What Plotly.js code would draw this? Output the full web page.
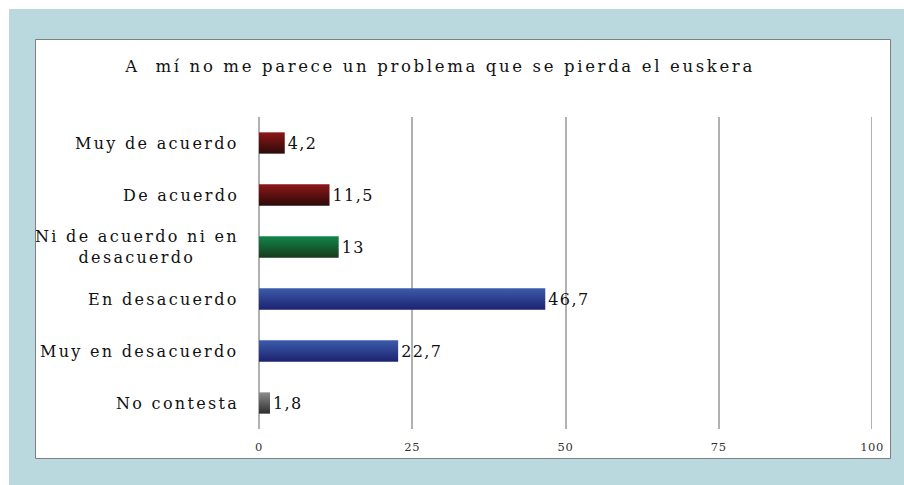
<!DOCTYPE html>
<html>
<head>
<meta charset="utf-8">
<script src="https://cdn.plot.ly/plotly-3.0.1.min.js"></script>
<style>
html,body{margin:0;padding:0;background:#fff;}
#chart{width:904px;height:485px;}
.gtitle{letter-spacing:2.65px;}
.annotation-text{letter-spacing:2.3px;}
.bartext{letter-spacing:1.4px;}
.xtick text{letter-spacing:0.6px;}
</style>
</head>
<body>
<div id="chart"></div>
<script>
const categories = ["Muy de acuerdo", "De acuerdo", "Ni de acuerdo ni en<br>desacuerdo", "En desacuerdo", "Muy en desacuerdo", "No contesta"];
const values = [4.2, 11.5, 13, 46.7, 22.7, 1.8];
const tickValues = [0, 25, 50, 75, 100];
const chartTitle = "A  mí no me parece un problema que se pierda el euskera";

const grads = [
  ["#8e1717", "#2c0a0a"],
  ["#8e1717", "#2c0a0a"],
  ["#12854a", "#173a1c"],
  ["#3b5cab", "#1c2270"],
  ["#3b5cab", "#1c2270"],
  ["#8c8c8c", "#2e2e2e"]
];
const midColors = ["#5e1212", "#5e1212", "#155e33", "#2c3f8e", "#2c3f8e", "#5e5e5e"];

const W = 904, H = 485, L = 259, R = 32, T = 117, B = 56;
const pw = W - L - R, ph = H - T - B;
const px = v => (v - L) / pw;
const py = v => (H - B - v) / ph;

const FONT = "DejaVu Serif, Liberation Serif, serif";
const GRID = "#b1b1b1";

const trace = {
  type: "bar",
  orientation: "h",
  y: categories,
  x: values,
  width: 0.41,
  marker: {color: midColors, line: {width: 0}},
  text: values.map(v => String(v).replace(".", ",")),
  textposition: "outside",
  textfont: {family: FONT, size: 16, color: "#111"},
  cliponaxis: false,
  hoverinfo: "none"
};

const annotations = categories.map(c => ({
  xref: "paper", yref: "y", x: px(240.5), y: c,
  xanchor: "right", yanchor: "middle", align: "center",
  text: c, showarrow: false,
  font: {family: FONT, size: 16, color: "#111"}
}));

const layout = {
  width: W, height: H,
  margin: {l: L, r: R, t: T, b: B},
  paper_bgcolor: "#ffffff",
  plot_bgcolor: "rgba(0,0,0,0)",
  showlegend: false,
  title: {text: chartTitle, font: {family: FONT, size: 16.5, color: "#111"},
          x: 440 / W, xanchor: "center", xref: "container", y: 1 - 66 / H, yanchor: "middle"},
  xaxis: {
    range: [0, 100], tickvals: tickValues, ticktext: tickValues.map(String),
    showgrid: true, gridcolor: GRID, gridwidth: 2,
    zeroline: true, zerolinecolor: GRID, zerolinewidth: 2,
    showline: false, ticks: "", ticklabelstandoff: 9,
    tickfont: {family: FONT, size: 11.5, color: "#333"}, fixedrange: true
  },
  yaxis: {
    type: "category", autorange: "reversed", showticklabels: false,
    showgrid: false, zeroline: false, showline: false, ticks: "", fixedrange: true
  },
  annotations: annotations,
  shapes: [
    {type: "rect", xref: "paper", yref: "paper", layer: "below",
     x0: px(9), x1: px(910), y0: py(490), y1: py(9),
     fillcolor: "#bad9df", line: {width: 0}},
    {type: "rect", xref: "paper", yref: "paper", layer: "below",
     x0: px(35.5), x1: px(890.5), y0: py(458.5), y1: py(39.5),
     fillcolor: "#ffffff", line: {color: "#7f7f7f", width: 1}},
    {type: "line", xref: "x", yref: "paper", layer: "below",
     x0: tickValues[tickValues.length - 1], x1: tickValues[tickValues.length - 1], y0: 0, y1: 1,
     line: {color: GRID, width: 2}}
  ]
};

Plotly.newPlot("chart", [trace], layout, {displayModeBar: false, staticPlot: true}).then(gd => {
  const svg = gd.querySelector("svg.main-svg");
  const ns = "http://www.w3.org/2000/svg";
  let defs = svg.querySelector("defs");
  if (!defs) { defs = document.createElementNS(ns, "defs"); svg.insertBefore(defs, svg.firstChild); }
  grads.forEach((g, i) => {
    const lg = document.createElementNS(ns, "linearGradient");
    lg.setAttribute("id", "bargrad" + i);
    lg.setAttribute("x1", "0"); lg.setAttribute("y1", "0");
    lg.setAttribute("x2", "0"); lg.setAttribute("y2", "1");
    const s0 = document.createElementNS(ns, "stop");
    s0.setAttribute("offset", "0"); s0.setAttribute("stop-color", g[0]);
    const s1 = document.createElementNS(ns, "stop");
    s1.setAttribute("offset", "1"); s1.setAttribute("stop-color", g[1]);
    lg.appendChild(s0); lg.appendChild(s1); defs.appendChild(lg);
  });
  const paths = gd.querySelectorAll(".barlayer .point path");
  paths.forEach((p, i) => { if (grads[i]) p.style.fill = "url(#bargrad" + i + ")"; });
});
</script>
</body>
</html>
